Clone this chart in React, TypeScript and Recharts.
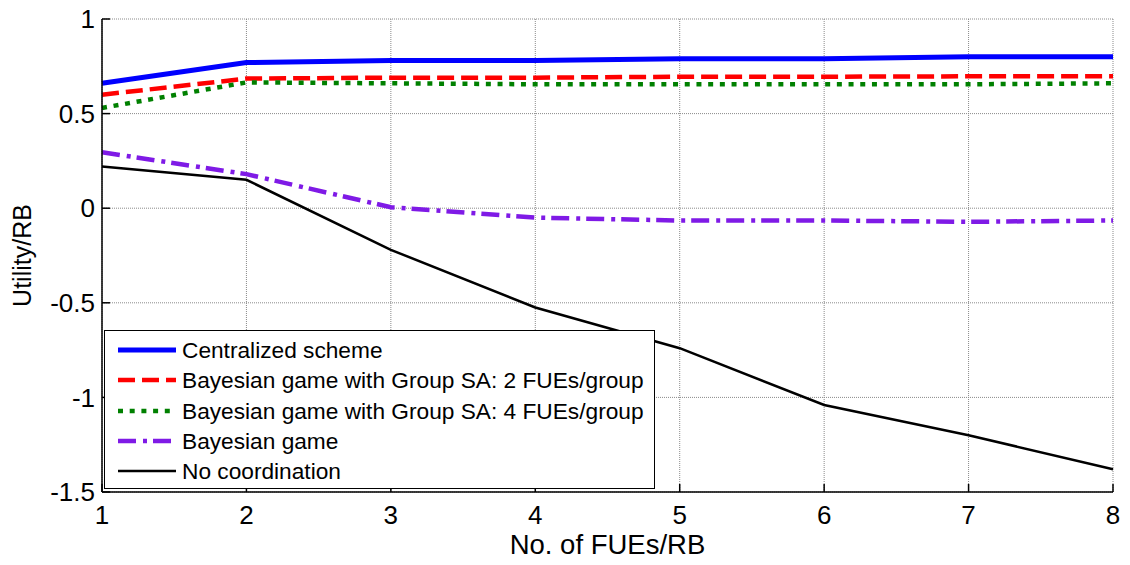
import React from 'react';
import { LineChart, Line, XAxis, YAxis, CartesianGrid, Legend, Label } from 'recharts';

const xValues = [1, 2, 3, 4, 5, 6, 7, 8];
const centralized = [0.66, 0.77, 0.78, 0.78, 0.79, 0.79, 0.80, 0.80];
const group2 = [0.60, 0.685, 0.69, 0.69, 0.695, 0.695, 0.697, 0.697];
const group4 = [0.53, 0.665, 0.66, 0.655, 0.655, 0.655, 0.655, 0.66];
const bayesian = [0.296, 0.18, 0.005, -0.05, -0.065, -0.065, -0.072, -0.065];
const noCoord = [0.22, 0.15, -0.22, -0.525, -0.74, -1.04, -1.2, -1.38];

const xTicks = [1, 2, 3, 4, 5, 6, 7, 8];
const yTicks = [-1.5, -1, -0.5, 0, 0.5, 1];

const seriesNames = [
  'Centralized scheme',
  'Bayesian game with Group SA: 2 FUEs/group',
  'Bayesian game with Group SA: 4 FUEs/group',
  'Bayesian game',
  'No coordination',
];
const seriesKeys = ['centralized', 'group2', 'group4', 'bayesian', 'noCoord'];
const seriesValues = [centralized, group2, group4, bayesian, noCoord];
const seriesColors = ['#0000FF', '#FF0000', '#008000', '#7F1AE6', '#000000'];
const seriesWidths = [5, 4.5, 4.5, 4.5, 2.5];
const seriesDash = [undefined, '17 7', '5 6.7', '18 7 4 6', undefined];

const data = xValues.map((x, i) => {
  const row: Record<string, number> = { x };
  seriesKeys.forEach((k, j) => {
    row[k] = seriesValues[j][i];
  });
  return row;
});

const FONT = '"Liberation Sans", Arial, sans-serif';

const renderLegend = () => (
  <div
    style={{
      border: '1.5px solid #000',
      background: '#fff',
      width: 551,
      height: 159,
      boxSizing: 'border-box',
      paddingTop: 4,
      fontFamily: FONT,
      fontSize: 22.7,
      color: '#000',
    }}
  >
    {seriesNames.map((name, i) => (
      <div key={name} style={{ display: 'flex', alignItems: 'center', height: 30.3 }}>
        <svg width={77} height={12} style={{ flex: 'none' }}>
          <line
            x1={13}
            y1={6}
            x2={71}
            y2={6}
            stroke={seriesColors[i]}
            strokeWidth={seriesWidths[i]}
            strokeDasharray={seriesDash[i]}
          />
        </svg>
        <span style={{ whiteSpace: 'nowrap', lineHeight: '30px' }}>{name}</span>
      </div>
    ))}
  </div>
);

const tickStyle = { fill: '#000', fontSize: 26, fontFamily: FONT };

export default function App() {
  return (
    <div style={{ position: 'absolute', left: 0, top: 0, background: '#fff' }}>
      <LineChart
        width={1130}
        height={565}
        data={data}
        margin={{ top: 19, right: 17, bottom: 3, left: 0 }}
      >
        <CartesianGrid stroke="#8a8a8a" strokeDasharray="1 1" strokeWidth={1} />
        <XAxis
          dataKey="x"
          type="number"
          domain={[1, 8]}
          ticks={xTicks}
          height={70}
          tickSize={-8}
          tickMargin={22}
          stroke="#000"
          tickLine={{ stroke: '#000', strokeWidth: 1.5 }}
          axisLine={{ stroke: '#000', strokeWidth: 1.5 }}
          tick={tickStyle}
          interval={0}
        >
          <Label
            value="No. of FUEs/RB"
            position="insideBottom"
            offset={8}
            style={{ fill: '#000', fontSize: 27.5, fontFamily: FONT }}
          />
        </XAxis>
        <XAxis
          xAxisId="top"
          orientation="top"
          type="number"
          domain={[1, 8]}
          ticks={xTicks}
          height={0}
          tickSize={-8}
          tickFormatter={() => ''}
          tickLine={{ stroke: '#000', strokeWidth: 1.5 }}
          axisLine={{ stroke: '#000', strokeWidth: 1.5 }}
          allowDataOverflow
          interval={0}
        />
        <YAxis
          type="number"
          domain={[-1.5, 1]}
          ticks={yTicks}
          width={102}
          tickSize={-8}
          tickMargin={15}
          stroke="#000"
          tickLine={{ stroke: '#000', strokeWidth: 1.5 }}
          axisLine={{ stroke: '#000', strokeWidth: 1.5 }}
          tick={tickStyle}
          interval={0}
        >
          <Label
            content={(props: any) => {
              const vb = props.viewBox || { x: 0, y: 0, width: 0, height: 0 };
              const cx = vb.x + 22;
              const cy = vb.y + vb.height / 2;
              return (
                <text
                  x={cx}
                  y={cy}
                  transform={`rotate(-90 ${cx} ${cy})`}
                  textAnchor="middle"
                  dominantBaseline="central"
                  style={{ fill: '#000', fontSize: 25, fontFamily: FONT }}
                >
                  Utility/RB
                </text>
              );
            }}
          />
        </YAxis>
        <YAxis
          yAxisId="right"
          orientation="right"
          type="number"
          domain={[-1.5, 1]}
          ticks={yTicks}
          width={0}
          tickSize={-8}
          tickFormatter={() => ''}
          tickLine={{ stroke: '#000', strokeWidth: 1.5 }}
          axisLine={{ stroke: '#000', strokeWidth: 1.5 }}
          allowDataOverflow
          interval={0}
        />
        {seriesKeys.map((k, i) => (
          <Line
            key={k}
            dataKey={k}
            name={seriesNames[i]}
            type="linear"
            stroke={seriesColors[i]}
            strokeWidth={seriesWidths[i]}
            strokeDasharray={seriesDash[i]}
            dot={false}
            activeDot={false}
            isAnimationActive={false}
          />
        ))}
        <Legend
          layout="vertical"
          align="center"
          verticalAlign="middle"
          content={renderLegend}
          wrapperStyle={{ position: 'absolute', left: 104, top: 330, width: 551, height: 159 }}
        />
      </LineChart>
    </div>
  );
}
